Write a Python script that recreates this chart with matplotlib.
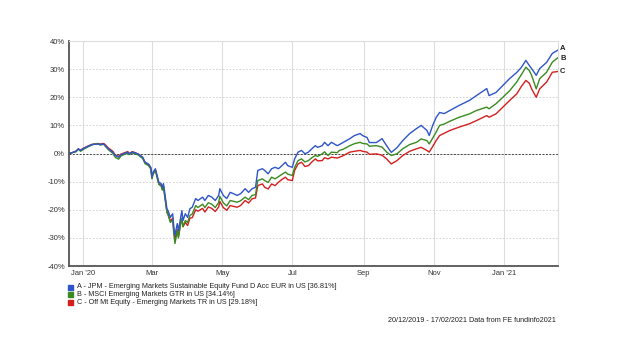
import numpy as np
import pandas as pd
import matplotlib
matplotlib.use("Agg")
import matplotlib.pyplot as plt

plt.rcParams['font.family'] = ['Liberation Sans', 'DejaVu Sans']

# days since 20/12/2019
days = [0, 1, 6, 8, 10, 12, 16, 20, 25, 27, 30, 32, 34, 38, 40, 43, 45, 47, 51, 52,
        55, 58, 60, 64, 66, 69, 71, 72, 73, 75, 78, 80, 81, 82, 84, 85, 86, 88, 90, 91,
        92, 94, 95, 97, 98, 99, 101, 103, 105, 107, 110, 112, 116, 118, 121, 124, 127, 130, 131, 134,
        137, 140, 143, 146, 149, 153, 156, 159, 162, 164, 168, 170, 173, 176, 179, 182, 185, 188, 190, 194,
        196, 199, 202, 205, 208, 211, 214, 216, 220, 222, 225, 228, 233, 235, 238, 244, 248, 253, 255, 259,
        261, 267, 272, 276, 280, 285, 290, 296, 302, 306, 311, 313, 316, 319, 322, 326, 331, 339, 348, 354,
        363, 365, 371, 377, 383, 389, 393, 397, 400, 402, 406, 409, 415, 420, 425]

fund_a = [0, 0.1, 0.8, 1.7, 1.1, 1.7, 2.5, 3.2, 3.4, 3.2, 3.4, 2.5, 1.7, 0.5, -0.7, -1.3, -0.4, -0.1, 0.5, -0.1,
          0.5, 0.1, -0.1, -1.3, -3.1, -3.7, -4.9, -8.4, -6.6, -5.4, -10.2, -10.7, -12.0, -10.7, -16.7, -19.6, -20.3, -22.7, -21.4, -26.2,
          -29.0, -24.9, -27.4, -22.7, -20.3, -23.8, -21.4, -22.7, -19.6, -19.1, -16.0, -16.7, -15.5, -16.7, -14.9, -15.5, -16.7, -14.9, -12.5, -14.9,
          -16.0, -13.8, -14.3, -14.9, -14.3, -12.5, -13.8, -12.5, -12.0, -6.0, -5.4, -6.0, -7.2, -5.4, -4.9, -5.4, -4.3, -3.1, -4.3, -4.9,
          -1.9, 0.5, 1.1, -0.1, 0.5, 1.7, 2.8, 2.2, 2.8, 4.0, 2.8, 4.0, 2.8, 3.2, 3.9, 5.3, 6.4, 7.1, 6.4, 5.7,
          3.9, 3.9, 5.3, 2.8, 0.4, 2.1, 4.6, 7.1, 8.9, 10.0, 8.2, 6.4, 10.0, 12.8, 14.6, 14.2, 15.3, 17.1, 18.9, 20.6,
          23.1, 20.6, 21.7, 24.2, 26.7, 28.8, 30.6, 33.1, 31.3, 30.2, 27.8, 30.2, 32.4, 35.6, 36.81]

index_b = [0, 0.2, 0.6, 1.5, 0.8, 1.4, 2.3, 3.1, 3.6, 3.0, 3.3, 2.4, 1.4, 0.1, -1.3, -2.0, -0.9, -0.5, 0.2, -0.4,
           0.2, -0.2, -0.5, -1.8, -3.6, -4.3, -5.5, -9.0, -7.3, -6.1, -11.0, -11.6, -13.0, -11.8, -17.8, -21.0, -21.8, -24.5, -23.5, -28.5,
           -32.0, -27.5, -30.0, -25.0, -23.0, -26.0, -23.8, -24.5, -22.0, -21.5, -18.5, -19.2, -18.0, -19.2, -17.5, -18.0, -19.2, -17.4, -15.2, -17.5,
           -18.6, -16.7, -17.0, -17.3, -16.8, -15.5, -16.4, -14.9, -14.6, -9.6, -9.0, -9.6, -10.3, -8.4, -9.0, -8.2, -7.4, -6.6, -7.3, -7.8,
           -4.9, -2.5, -1.9, -3.0, -2.5, -1.5, -0.7, -1.0, -0.1, 0.6, -0.7, 0.5, 0.3, 1.1, 1.5, 2.8, 3.5, 4.0, 3.6, 3.4,
           2.6, 2.8, 2.3, 0.5, -0.7, -0.1, 1.7, 3.2, 4.0, 5.2, 4.6, 3.4, 5.5, 7.6, 10.0, 10.5, 11.5, 12.9, 14.1, 15.3,
           16.5, 15.9, 17.7, 20.0, 22.4, 25.4, 28.0, 30.7, 29.5, 27.8, 23.0, 26.6, 28.9, 32.5, 34.14]

peer_c = [0, 0.0, 0.9, 1.6, 1.2, 1.8, 2.6, 3.3, 3.5, 3.4, 3.6, 2.9, 2.0, 0.8, -0.5, -1.0, -0.2, 0.1, 0.7, 0.0,
          0.7, 0.2, -0.2, -1.5, -3.2, -3.9, -5.2, -8.6, -7.0, -5.9, -10.8, -11.3, -12.8, -11.6, -17.5, -20.6, -21.5, -24.0, -23.0, -27.5,
          -30.5, -27.0, -29.5, -24.4, -23.5, -26.0, -24.5, -25.6, -23.0, -22.8, -20.0, -20.5, -19.5, -20.8, -19.0, -19.5, -20.6, -19.0, -17.0, -19.2,
          -20.2, -18.5, -18.8, -19.1, -18.5, -16.7, -17.6, -16.1, -15.8, -11.4, -10.8, -12.0, -12.6, -10.8, -11.4, -10.2, -9.2, -8.4, -9.3, -9.6,
          -6.0, -3.7, -3.1, -4.6, -4.3, -3.0, -1.9, -2.6, -2.5, -1.5, -1.9, -1.3, -1.6, -1.3, -0.8, 0.5, 0.8, 1.1, 0.8, 0.5,
          -0.3, -0.1, -0.6, -1.9, -3.7, -2.5, -0.7, 0.8, 1.7, 2.2, 1.1, 0.5, 2.5, 4.6, 6.4, 7.2, 8.2, 9.4, 10.6, 11.7,
          13.5, 12.9, 14.1, 16.5, 18.9, 21.2, 23.8, 26.0, 25.0, 23.0, 20.0, 23.0, 25.4, 28.9, 29.18]

names = ["A - JPM - Emerging Markets Sustainable Equity Fund D Acc EUR in US [36.81%]",
         "B - MSCI Emerging Markets GTR in US [34.14%]",
         "C - Off Mt Equity - Emerging Markets TR in US [29.18%]"]
colors = ["#2f55c8", "#3a8a22", "#d41f1f"]
end_tags = ["A", "B", "C"]

dates = pd.Timestamp("2019-12-20") + pd.to_timedelta(days, unit="D")

fig = plt.figure(figsize=(6.4, 3.6), dpi=100)
ax = fig.add_axes([0.108, 0.261, 0.764, 0.625])

# draw C, B, then A so blue sits on top
for vals, c in zip([peer_c, index_b, fund_a], colors[::-1]):
    ax.plot(dates, vals, color=c, lw=1.0)

ax.axhline(0, color="#444444", lw=0.7, ls=(0, (2, 1.5)), zorder=1)

ax.set_ylim(-40, 40)
ax.set_yticks(np.arange(-40, 41, 10))
ax.set_yticklabels([f"{v}%" for v in range(-40, 41, 10)])
ax.set_xlim(pd.Timestamp("2019-12-20"), pd.Timestamp("2021-02-17"))
ticks = pd.to_datetime(["2020-01-01", "2020-03-01", "2020-05-01", "2020-07-01",
                        "2020-09-01", "2020-11-01", "2021-01-01"])
ax.set_xticks(ticks)
ax.set_xticklabels(["Jan '20", "Mar", "May", "Jul", "Sep", "Nov", "Jan '21"])

ax.grid(axis="x", color="#dddddd", lw=0.8)
ax.grid(axis="y", color="#cccccc", lw=0.6, ls=(0, (2, 2)))
ax.set_axisbelow(True)
ax.tick_params(labelsize=5.5, length=0, pad=3, colors="#333333")

for s in ["top", "right"]:
    ax.spines[s].set_color("#dddddd")
    ax.spines[s].set_linewidth(0.8)
for s in ["left", "bottom"]:
    ax.spines[s].set_color("#555555")
    ax.spines[s].set_linewidth(1.3)

tag_shift = {"A": 0.6, "B": -0.4, "C": 0.0}
for tag, vals in zip(end_tags, [fund_a, index_b, peer_c]):
    ax.annotate(tag, xy=(dates[-1], vals[-1] + tag_shift[tag]), xytext=(1.5, 0),
                textcoords="offset points", fontsize=5.5, fontweight="bold",
                color="#222222", va="center", annotation_clip=False)

# legend rows at the bottom
for i, (n, c) in enumerate(zip(names, colors)):
    y = 1 - (287 + 7.5 * i) / 360
    fig.patches.append(plt.Rectangle((0.107, y - 0.007), 0.0075, 0.0135, color=c,
                                     transform=fig.transFigure, figure=fig))
    fig.text(0.12, y, n, fontsize=5.2, va="center", color="#222222")

fig.text(0.606, 1 - 320 / 360, "20/12/2019 - 17/02/2021 Data from FE fundinfo2021",
         fontsize=5.2, va="center", color="#222222")

fig.savefig("out.png", dpi=100)
